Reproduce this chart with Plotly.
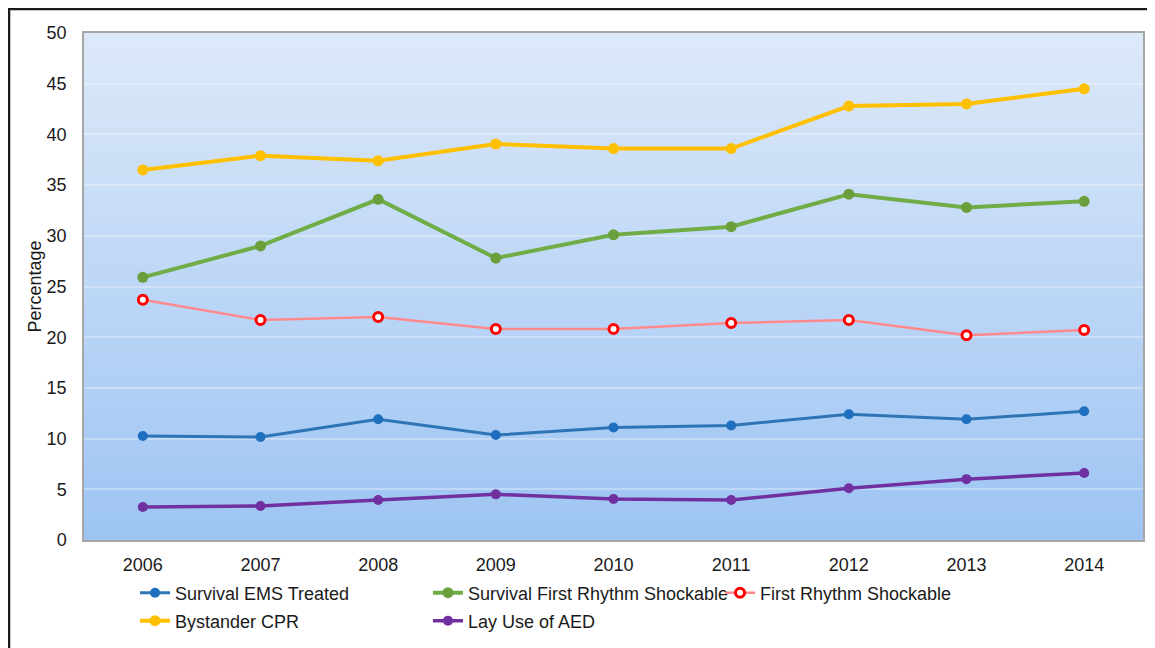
import plotly.graph_objects as go

years = ["2006", "2007", "2008", "2009", "2010", "2011", "2012", "2013", "2014"]
survival_ems = [10.25, 10.15, 11.9, 10.35, 11.1, 11.3, 12.4, 11.9, 12.7]
survival_shockable = [25.9, 29.0, 33.6, 27.8, 30.1, 30.9, 34.1, 32.8, 33.4]
first_rhythm = [23.7, 21.7, 22.0, 20.8, 20.8, 21.4, 21.7, 20.2, 20.7]
bystander_cpr = [36.5, 37.9, 37.4, 39.05, 38.6, 38.6, 42.8, 43.0, 44.5]
lay_aed = [3.25, 3.35, 3.95, 4.5, 4.05, 3.95, 5.1, 6.0, 6.6]
y_ticks = [0, 5, 10, 15, 20, 25, 30, 35, 40, 45, 50]

fig = go.Figure()

def add(name, vals, lcolor, mcolor, lw, msize, legend, mline=None):
    marker = dict(color=mcolor, size=msize)
    if mline:
        marker["line"] = dict(color=mline, width=3)
    fig.add_trace(go.Scatter(x=years, y=vals, name=name, mode="lines+markers",
                             legend=legend, legendgroup=name,
                             line=dict(color=lcolor, width=lw), marker=marker))

add("Survival EMS Treated", survival_ems, "#2E75B6", "#1F6FBF", 3, 10, "legend")
add("Survival First Rhythm Shockable", survival_shockable, "#70AD47", "#6A9F3C", 4, 11, "legend2")
add("First Rhythm Shockable", first_rhythm, "#FF8A8E", "white", 2.5, 9, "legend3", mline="#FF0000")
add("Bystander CPR", bystander_cpr, "#FFC000", "#FFC000", 4, 11, "legend")
add("Lay Use of AED", lay_aed, "#7030A0", "#7030A0", 3.5, 10, "legend2")

# gradient background
shapes = []
n = 60
top = (221, 233, 249)
bot = (157, 196, 243)
for i in range(n):
    f = (i + 0.5) / n
    c = tuple(round(bot[k] + (top[k] - bot[k]) * f) for k in range(3))
    shapes.append(dict(type="rect", xref="paper", yref="paper",
                       x0=0, x1=1, y0=i / n, y1=(i + 1) / n + 0.002,
                       fillcolor="rgb(%d,%d,%d)" % c, line=dict(width=0), layer="below"))
# outer figure border (left and top)
shapes.append(dict(type="path", xref="paper", yref="paper",
                   path="M -0.0708,-0.3 L -0.0708,1.0473 L 1.2,1.0473",
                   line=dict(color="#1a1a1a", width=2.5), layer="above"))

leg_common = dict(orientation="v", xanchor="left", yref="container", y=0.1148, yanchor="top",
                  font=dict(size=18, color="#1a1a1a"), itemwidth=30,
                  tracegroupgap=1.5, bgcolor="rgba(0,0,0,0)")

fig.update_layout(
    width=1147, height=640,
    margin=dict(l=76, r=12, t=25, b=108, autoexpand=False),
    paper_bgcolor="white",
    plot_bgcolor="rgba(0,0,0,0)",
    font=dict(family="Liberation Sans, Arial, sans-serif", size=18, color="#1a1a1a"),
    shapes=shapes,
    showlegend=True,
    legend=dict(x=0.0482, **leg_common),
    legend2=dict(x=0.3248, **leg_common),
    legend3=dict(x=0.6006, **leg_common),
)
fig.update_xaxes(type="category", range=[-0.5, 8.5], showgrid=False,
                 showline=True, linecolor="#A6A6A6", linewidth=1.5, mirror=True,
                 ticks="outside", ticklen=8, tickcolor="rgba(0,0,0,0)",
                 tickfont=dict(size=18))
fig.update_yaxes(range=[0, 50], tickvals=y_ticks, showgrid=True,
                 gridcolor="rgba(255,255,255,0.3)", gridwidth=1.5,
                 zeroline=False, showline=True, linecolor="#A6A6A6", linewidth=1.5,
                 mirror=True, ticks="outside", ticklen=12, tickcolor="rgba(0,0,0,0)",
                 tickfont=dict(size=18),
                 title=dict(text="Percentage", font=dict(size=18), standoff=0))

fig.write_html("out.html")
